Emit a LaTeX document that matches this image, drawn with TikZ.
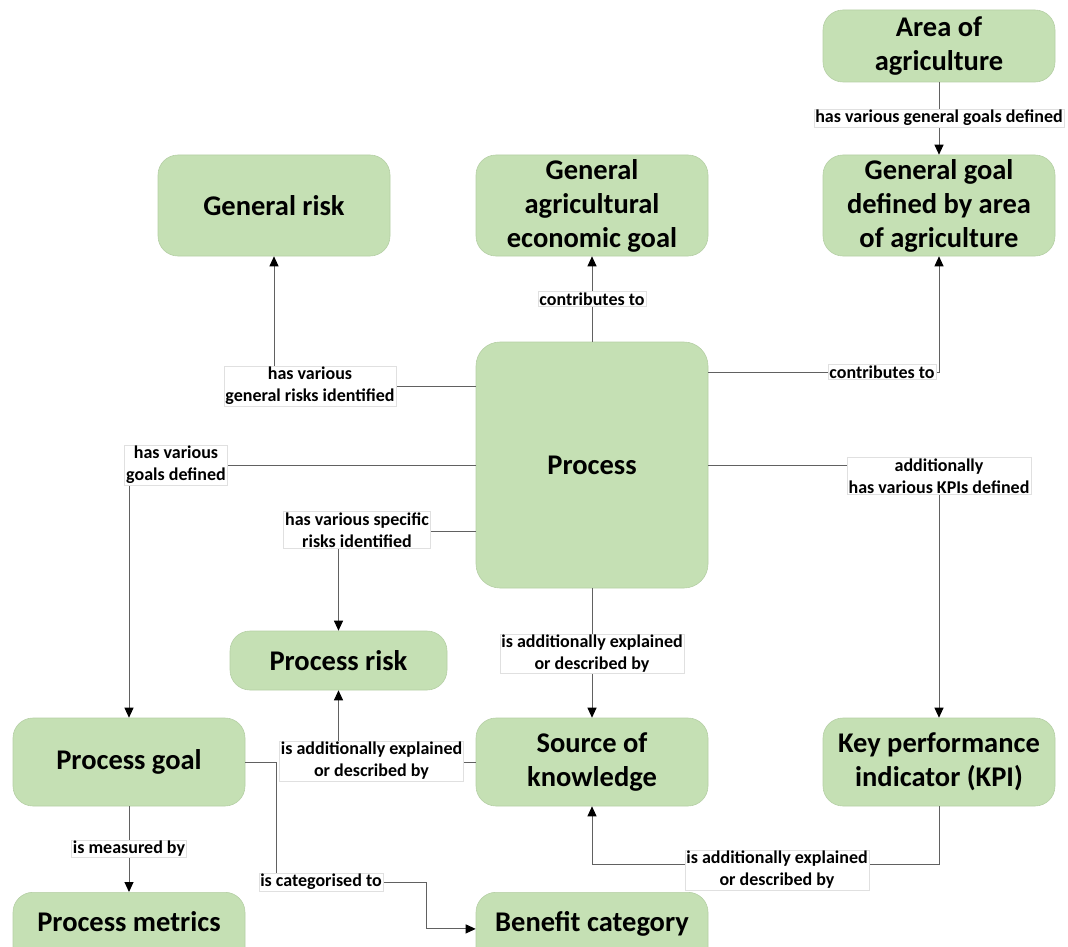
\documentclass[tikz,border=0pt]{standalone}
\usepackage{fontspec}
\setmainfont{Carlito}
\usetikzlibrary{arrows.meta}
\definecolor{boxgreen}{HTML}{C5E0B4}
\definecolor{boxedge}{HTML}{B5CFA5}
\tikzset{
  box/.style={rounded corners=20pt, fill=boxgreen, draw=boxedge, line width=0.6pt,
    minimum width=232pt, align=center, inner sep=0pt,
    font=\fontsize{28.5}{34}\selectfont\bfseries},
  lab/.style={fill=white, draw=black!12, line width=0.5pt, align=center,
    inner xsep=1.5pt, inner ysep=1pt,
    font=\fontsize{18}{22}\selectfont\bfseries},
  conn/.style={draw=black!62, line width=1pt},
  arr/.style={conn, -{Triangle[length=10pt,width=9pt,color=black]}}
}
\begin{document}
\begin{tikzpicture}[x=1pt,y=-1pt]
\useasboundingbox (0,0) rectangle (1068,947);
\clip (0,0) rectangle (1068,947);
% boxes
\node[box, minimum height=72pt] (area) at (939,46) {Area of\\agriculture};
\node[box, minimum height=101pt] (ggoal) at (939,205.5) {General goal\\defined by area\\of agriculture};
\node[box, minimum height=101pt] (econ) at (592,205.5) {General\\agricultural\\economic goal};
\node[box, minimum height=101pt] (grisk) at (274,205.5) {General risk};
\node[box, minimum height=246pt, rounded corners=24pt] (process) at (592,465) {Process};
\node[box, minimum height=59pt, minimum width=217pt] (prisk) at (338.5,660.5) {Process risk};
\node[box, minimum height=88pt] (pgoal) at (129,762) {Process goal};
\node[box, minimum height=88pt] (source) at (592,762) {Source of\\knowledge};
\node[box, minimum height=88pt] (kpi) at (939,762) {Key performance\\indicator (KPI)};
\node[box, anchor=north, text height=39pt, text depth=60pt] (metrics) at (129,892) {Process metrics};
\node[box, anchor=north, text height=39pt, text depth=60pt] (benefit) at (592,892) {Benefit category};
% helper coordinates
\coordinate (c3) at (939,372);
\coordinate (c4) at (274,386);
\coordinate (c6) at (339,531);
\coordinate (b1) at (276,882);
\coordinate (b2) at (426,882);
% connectors
\draw[arr] (area.south) -- (ggoal.north);
\draw[arr] (process.north) -- (econ.south);
\draw[arr] (process.east |- c3) -| (ggoal.south);
\draw[arr] (process.west |- c4) -| (grisk.south);
\draw[arr] (process.west) -| (pgoal.north);
\draw[arr] (process.west |- c6) -| (prisk.north);
\draw[arr] (process.east) -| (kpi.north);
\draw[arr] (process.south) -- (source.north);
\draw[arr] (source.west) -| (prisk.south);
\draw[arr] (pgoal.east) -| (b1) -- (b2) |- (benefit.mid west);
\draw[arr] (pgoal.south) -- (metrics.north);
\draw[arr] (kpi.south) -- ++(0,58) -| (source.south);
% labels
\node[lab] (l1) at (939,118) {has various general goals defined};
\node[lab] (l2) at (592,299) {contributes to};
\node[lab] (l3) at (882,372) {contributes to};
\node[lab] (l4) at (310,386) {has various\\general risks identified};
\node[lab] (l5) at (176,465) {has various\\goals defined};
\node[lab] (l6) at (357,530) {has various specific\\risks identified};
\node[lab] (l7) at (939,476) {additionally\\has various KPIs defined};
\node[lab] (l8) at (592,654) {is additionally explained\\or described by};
\node[lab] (l9) at (371.5,761) {is additionally explained\\or described by};
\node[lab] (l10) at (321,882) {is categorised to};
\node[lab] (l11) at (129,849) {is measured by};
\node[lab] (l12) at (777,870) {is additionally explained\\or described by};
\end{tikzpicture}
\end{document}
